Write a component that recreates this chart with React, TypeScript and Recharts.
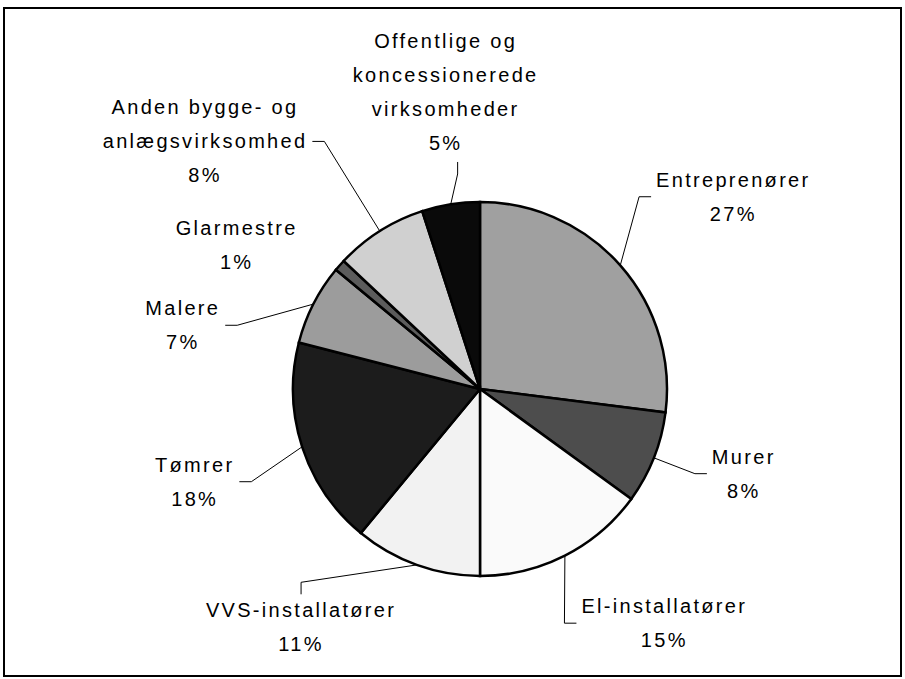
import { PieChart, Pie, Cell } from 'recharts';

// Branchefordeling (andel i procent), fra kl. 12 med uret
const categories = [
  'Entreprenører',
  'Murer',
  'El-installatører',
  'VVS-installatører',
  'Tømrer',
  'Malere',
  'Glarmestre',
  'Anden bygge- og anlægsvirksomhed',
  'Offentlige og koncessionerede virksomheder',
];
const shares = [27, 8, 15, 11, 18, 7, 1, 8, 5];
const labelLines = [
  ['Entreprenører'],
  ['Murer'],
  ['El-installatører'],
  ['VVS-installatører'],
  ['Tømrer'],
  ['Malere'],
  ['Glarmestre'],
  ['Anden bygge- og', 'anlægsvirksomhed'],
  ['Offentlige og', 'koncessionerede', 'virksomheder'],
];

const FILLS = ['#a0a0a0', '#4d4d4d', '#fafafa', '#f2f2f2', '#1c1c1c', '#9c9c9c', '#5c5c5c', '#d0d0d0', '#0a0a0a'];

// label placement: degrees turned (clockwise) from slice middle, distance from centre
const LABEL_SHIFT = [4.2, -3.8, -11.2, 17.1, 0, -14.9, -10.7, -15.6, 2.4];
const LABEL_DIST = [318, 277, 298, 298, 300, 304, 283, 370, 299];
const LEADER_SIDE = ['left', 'left', 'left', 'top', 'right', 'right', 'none', 'right', 'bottom'];

const data = categories.map((name, i) => ({ name, value: shares[i] }));

const FONT_SIZE = 20;
const LETTER_SPACING = 2.3;
const LINE_H = 34;
const FONT = '"Liberation Sans", Arial, sans-serif';

const ctx = typeof document !== 'undefined' ? document.createElement('canvas').getContext('2d') : null;
const textWidth = (s: string) => {
  if (!ctx) return s.length * 11;
  ctx.font = `${FONT_SIZE}px "Liberation Sans"`;
  return ctx.measureText(s).width + s.length * LETTER_SPACING;
};

const RADIAN = Math.PI / 180;

const renderLabel = (props: any) => {
  const { cx, cy, midAngle, outerRadius, index, value } = props;
  const theta = 90 - midAngle; // clockwise from top
  const edgeX = cx + outerRadius * Math.sin(theta * RADIAN);
  const edgeY = cy - outerRadius * Math.cos(theta * RADIAN);
  const tl = (theta + LABEL_SHIFT[index]) * RADIAN;
  const lx = cx + LABEL_DIST[index] * Math.sin(tl);
  const ly = cy - LABEL_DIST[index] * Math.cos(tl);

  const lines = [...labelLines[index], `${value}%`];
  const n = lines.length;
  const firstBase = ly - ((n - 1) * LINE_H) / 2 + 7;
  const lastBase = firstBase + (n - 1) * LINE_H;
  const halfW = Math.max(...lines.map(textWidth)) / 2;

  let pts: number[][] | null = null;
  const side = LEADER_SIDE[index];
  if (side === 'left') {
    const ax = lx - halfW - 5;
    pts = [[edgeX, edgeY], [ax - 12, ly], [ax, ly]];
  } else if (side === 'right') {
    const ax = lx + halfW + 5;
    pts = [[edgeX, edgeY], [ax + 12, ly], [ax, ly]];
  } else if (side === 'top') {
    const ay = firstBase - 15 - 8;
    pts = [[edgeX, edgeY], [lx, ay - 12], [lx, ay]];
  } else if (side === 'bottom') {
    const ay = lastBase + 12;
    pts = [[edgeX, edgeY], [lx + 12, ay + 12], [lx + 12, ay]];
  }

  return (
    <g key={`lbl-${index}`}>
      {pts && (
        <polyline
          points={pts.map((p) => p.join(',')).join(' ')}
          fill="none"
          stroke="#000"
          strokeWidth={1}
        />
      )}
      <text
        x={lx}
        y={firstBase}
        textAnchor="middle"
        fill="#000"
        fontFamily={FONT}
        fontSize={FONT_SIZE}
        letterSpacing={LETTER_SPACING}
      >
        {lines.map((t, i) => (
          <tspan key={i} x={lx} y={firstBase + i * LINE_H}>
            {t}
          </tspan>
        ))}
      </text>
    </g>
  );
};

export default function App() {
  return (
    <div style={{ position: 'absolute', left: 0, top: 0, width: 905, height: 679, background: '#fff' }}>
      <div
        style={{
          position: 'absolute',
          left: 3,
          top: 7,
          width: 899,
          height: 670,
          boxSizing: 'border-box',
          border: '2px solid #000',
        }}
      />
      <div style={{ position: 'absolute', left: 0, top: 0 }}>
        <PieChart width={905} height={679} margin={{ top: 0, right: 0, bottom: 0, left: 0 }}>
          <Pie
            data={data}
            dataKey="value"
            nameKey="name"
            cx={480}
            cy={389}
            outerRadius={187}
            startAngle={90}
            endAngle={-270}
            stroke="#000"
            strokeWidth={2.5}
            label={renderLabel}
            labelLine={false}
            isAnimationActive={false}
          >
            {data.map((d, i) => (
              <Cell key={d.name} fill={FILLS[i]} />
            ))}
          </Pie>
        </PieChart>
      </div>
    </div>
  );
}
